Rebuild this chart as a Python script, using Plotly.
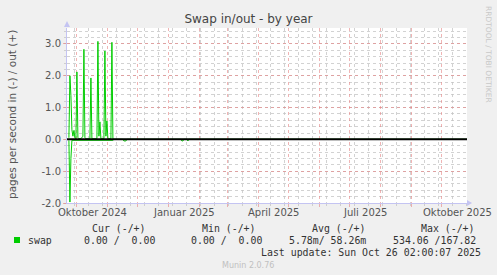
import pandas as pd
import plotly.graph_objects as go

# ---------------- data ----------------
range_start = "2024-09-21 02:00"
range_end = "2025-10-26 02:00"

# daily samples for the active period (start 2024-09-23)
active_start = "2024-09-23"
out_active = [0.05, 2.0, 1.38, 0.3, 0.1, 0.28, 0.05, 0.02, 2.12, 0.05,
              0.02, 0.02, 0.03, 0.05, 0.1, 2.83, 0.05, 0.02, 0.02, 0.02,
              0.02, 0.02, 1.93, 0.02, 0.02, 0.02, 0.02, 0.02, 0.02, 3.08,
              0.1, 0.55, 0.02, 0.02, 0.02, 0.02, 2.78, 0.1, 0.58, 0.02,
              0.02, 0.02, 0.02, 3.05, 0.02, 0.0]
in_active = [-0.03, -1.97, -0.6, -0.03, -0.03, -0.03, -0.03, -0.03, -0.03, -0.03,
             -0.03, -0.03, -0.03, -0.03, -0.03, -0.03, -0.03, -0.03, -0.03, -0.03,
             -0.03, -0.03, -0.03, -0.03, -0.03, -0.03, -0.03, -0.03, -0.03, -0.03,
             -0.03, -0.03, -0.03, -0.03, -0.03, -0.03, -0.03, -0.03, -0.03, -0.03,
             -0.03, -0.03, -0.03, -0.03, -0.03, 0.0]

out_tail_dates = ["2024-11-08", "2025-10-26"]
out_tail_values = [0.0, 0.0]
in_tail_dates = ["2024-11-08", "2024-11-16", "2024-11-17", "2024-11-18", "2024-11-19",
                 "2024-11-20", "2025-01-13", "2025-01-14", "2025-01-15", "2025-01-16",
                 "2025-01-19", "2025-01-20", "2025-01-21", "2025-10-26"]
in_tail_values = [0.0, 0.0, -0.05, -0.05, -0.05, 0.0, 0.0, -0.05, -0.05, 0.0,
                  0.0, -0.05, 0.0, 0.0]

month_grid = ["2024-10-01", "2024-11-01", "2024-12-01", "2025-01-01", "2025-02-01",
              "2025-03-01", "2025-04-01", "2025-05-01", "2025-06-01", "2025-07-01",
              "2025-08-01", "2025-09-01", "2025-10-01"]
x_label_pos = ["2024-10-16 12:00", "2025-01-16 12:00", "2025-04-16", "2025-07-16 12:00",
               "2025-10-16 12:00"]
x_label_text = ["Oktober 2024", "Januar 2025", "April 2025", "Juli 2025", "Oktober 2025"]

y_ticks = [-2.0, -1.0, 0.0, 1.0, 2.0, 3.0]
y_tick_text = ["-2.0", "-1.0", "0.0", "1.0", "2.0", "3.0"]

legend_name = "swap"
col_headers = ["Cur (-/+)", "Min (-/+)", "Avg (-/+)", "Max (-/+)"]
col_values = ["0.00 /\u00a0\u00a00.00", "0.00 /\u00a0\u00a00.00", "5.78m/ 58.26m", "534.06 /167.82"]
last_update = "Last update: Sun Oct 26 02:00:07 2025"
munin_version = "Munin 2.0.76"

# ---------------- figure ----------------
W, H = 497, 275
L, R, T, B = 67, 30, 28, 72
PW, PH = W - L - R, H - T - B

def px(xp):
    return (xp - L) / PW

def py(yp):
    return (T + PH - yp) / PH

active_dates = pd.date_range(active_start, periods=len(out_active), freq="D")
out_x = list(active_dates) + [pd.Timestamp(d) for d in out_tail_dates]
out_y = out_active + out_tail_values
in_x = list(pd.date_range(active_start, periods=len(in_active), freq="D")) + [pd.Timestamp(d) for d in in_tail_dates]
in_y = in_active + in_tail_values

GREEN = "#00cc00"
fig = go.Figure()
fig.add_trace(go.Scatter(x=in_x, y=in_y, mode="lines", line=dict(color=GREEN, width=1),
                         showlegend=False, hoverinfo="skip"))
fig.add_trace(go.Scatter(x=out_x, y=out_y, mode="lines", line=dict(color=GREEN, width=1),
                         name=legend_name, showlegend=False))

TICKC = "#555555"
AXC = "#c4c4f2"
MAJ = "rgba(230,130,130,0.6)"
MIN = "rgba(195,195,195,0.75)"
FONT = "DejaVu Sans"
MONO = "DejaVu Sans Mono"

fig.update_layout(
    width=W, height=H,
    margin=dict(l=L, r=R, t=T, b=B),
    paper_bgcolor="#f0f0f0", plot_bgcolor="#ffffff",
    showlegend=False,
    title=dict(text="Swap in/out - by year", x=0.5, xanchor="center",
               y=1 - 19 / H, yanchor="middle",
               font=dict(family=FONT, size=12, color="#444444")),
    xaxis=dict(type="date", range=[range_start, range_end],
               tickmode="array", tickvals=month_grid, showticklabels=False,
               showgrid=True, gridcolor=MAJ, griddash="dot", gridwidth=1,
               ticks="outside", ticklen=3, tickcolor=MAJ,
               minor=dict(dtick=14 * 86400000, tick0="2025-05-11", showgrid=True,
                          gridcolor=MIN, griddash="dot", gridwidth=1,
                          ticks="outside", ticklen=2, tickcolor=MIN),
               showline=True, linecolor=AXC, linewidth=1, zeroline=False),
    yaxis=dict(range=[-2.0, 3.5], tickmode="array", tickvals=y_ticks, ticktext=y_tick_text,
               showgrid=True, gridcolor=MAJ, griddash="dot", gridwidth=1,
               ticks="outside", ticklen=3, tickcolor=MAJ,
               tickfont=dict(family=FONT, size=10, color=TICKC),
               minor=dict(dtick=0.2, tick0=0, showgrid=True, gridcolor=MIN,
                          griddash="dot", gridwidth=1, ticks="outside", ticklen=2,
                          tickcolor=MIN),
               showline=True, linecolor=AXC, linewidth=1, zeroline=False),
)

# zero rule
fig.add_shape(type="line", xref="paper", yref="y", x0=0, x1=1, y0=0, y1=0,
              line=dict(color="#000000", width=2), layer="above")

# axis arrow heads
fig.add_shape(type="path", xref="paper", yref="paper",
              path=f"M {px(467)},{py(200)} L {px(472)},{py(203)} L {px(467)},{py(206)} Z",
              fillcolor=AXC, line=dict(width=0))
fig.add_shape(type="path", xref="paper", yref="paper",
              path=f"M {px(64)},{py(27)} L {px(67)},{py(21)} L {px(70)},{py(27)} Z",
              fillcolor=AXC, line=dict(width=0))

# x labels
for pos, txt in zip(x_label_pos, x_label_text):
    fig.add_annotation(x=pos, xref="x", y=py(212), yref="paper", text=txt,
                       showarrow=False, xanchor="center", yanchor="middle",
                       font=dict(family=FONT, size=10, color=TICKC))

# y title
fig.add_annotation(x=px(12), y=py(115), xref="paper", yref="paper",
                   text="pages per second in (-) / out (+)", textangle=-90,
                   showarrow=False, xanchor="center", yanchor="middle",
                   font=dict(family=FONT, size=10.5, color=TICKC))

# rrdtool credit
fig.add_annotation(x=px(489), y=py(54), xref="paper", yref="paper",
                   text="RRDTOOL / TOBI OETIKER", textangle=90,
                   showarrow=False, xanchor="center", yanchor="middle",
                   font=dict(family=FONT, size=7.5, color="#c8c8c8"))

# legend block
MONOSZ = 9.9
LEGC = "#333333"
header_right = [147, 257, 367, 476]
value_right = [156, 263, 367, 477]
for xr, txt in zip(header_right, col_headers):
    fig.add_annotation(x=px(xr), y=py(228), xref="paper", yref="paper", text=txt,
                       showarrow=False, xanchor="right", yanchor="middle",
                       font=dict(family=MONO, size=MONOSZ, color=LEGC), borderpad=0)
for xr, txt in zip(value_right, col_values):
    fig.add_annotation(x=px(xr), y=py(240), xref="paper", yref="paper", text=txt,
                       showarrow=False, xanchor="right", yanchor="middle",
                       font=dict(family=MONO, size=MONOSZ, color=LEGC), borderpad=0)
fig.add_shape(type="rect", xref="paper", yref="paper",
              x0=px(14), x1=px(20), y0=py(243), y1=py(237),
              fillcolor=GREEN, line=dict(width=0))
fig.add_annotation(x=px(27), y=py(240), xref="paper", yref="paper", text=legend_name,
                   showarrow=False, xanchor="left", yanchor="middle",
                   font=dict(family=MONO, size=MONOSZ, color=LEGC), borderpad=0)
fig.add_annotation(x=px(482), y=py(252), xref="paper", yref="paper", text=last_update,
                   showarrow=False, xanchor="right", yanchor="middle",
                   font=dict(family=MONO, size=MONOSZ, color=LEGC), borderpad=0)
fig.add_annotation(x=px(248), y=py(265), xref="paper", yref="paper", text=munin_version,
                   showarrow=False, xanchor="center", yanchor="middle",
                   font=dict(family=FONT, size=8, color="#c0c0c0"), borderpad=0)

fig.write_html("out.html")
